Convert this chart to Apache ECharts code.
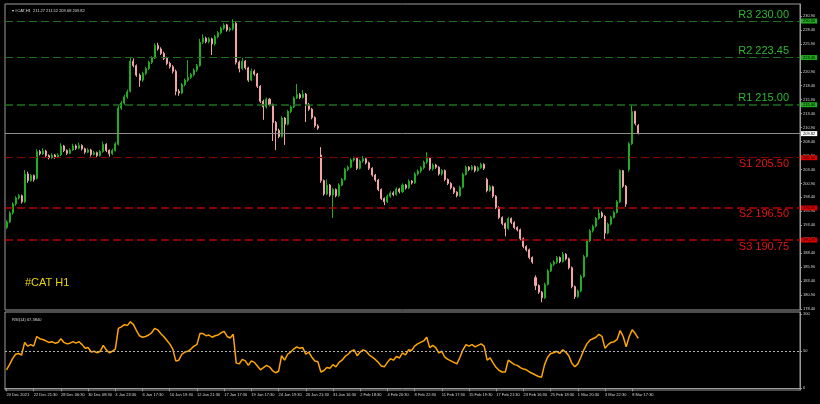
<!DOCTYPE html>
<html><head><meta charset="utf-8">
<script src="https://cdn.jsdelivr.net/npm/echarts@6/dist/echarts.min.js"></script>
<style>html,body{margin:0;padding:0;background:#000;}#c{width:820px;height:404px;}</style>
</head><body><div id="c"></div>
<script>
const tickLabels = ["20 Dec 2021","22 Dec 21:30","28 Dec 06:30","30 Dec 08:30","3 Jan 23:30","6 Jan 17:30","10 Jan 19:30","12 Jan 21:30","17 Jan 17:30","19 Jan 17:30","24 Jan 19:30","26 Jan 21:30","31 Jan 16:30","2 Feb 18:30","4 Feb 20:30","8 Feb 22:30","11 Feb 17:30","15 Feb 19:30","17 Feb 21:30","23 Feb 16:30","25 Feb 18:30","1 Mar 20:30","3 Mar 22:30","8 Mar 17:30"];
const priceTicks = [178.40,180.90,183.40,185.90,188.40,190.90,193.40,195.90,198.40,200.90,203.40,205.90,208.40,210.90,213.40,215.90,218.40,220.90,223.40,225.90,228.40,230.90];
const rsiTicks = [0,50,100];
const levelNames = ["R3","R2","R1","S1","S2","S3"];
const levelValues = [230.00,223.45,215.00,205.50,196.50,190.75];
const bidPrice = 209.82;
const headerValues = [211.27,211.52,209.68,209.82];
const rsiLast = 67.3840;
// [open, close, low, high]
const ohlc = [
[193.0,194.0,192.7,194.3],[194.0,195.6,193.8,195.9],[195.6,197.2,195.3,197.5],[197.2,198.3,196.9,198.6],[198.3,198.7,198.0,199.0],
[198.7,197.6,197.3,198.9],[197.6,202.6,197.4,203.3],[202.6,201.4,201.0,203.0],[201.4,202.3,201.2,202.6],[202.3,201.6,201.2,202.5],
[201.8,206.6,201.6,207.0],[206.6,206.2,205.9,206.9],[206.2,206.7,206.0,207.2],[206.7,205.9,205.6,206.9],[205.9,205.5,205.2,206.1],
[205.5,206.0,205.3,206.3],[206.0,205.6,205.3,206.2],[205.6,206.0,205.4,206.3],[206.0,207.6,205.8,208.1],[207.6,206.8,206.5,207.8],
[206.8,206.3,206.0,207.0],[206.3,206.9,206.1,207.2],[206.9,207.6,206.7,208.0],[207.6,207.2,206.9,207.9],[207.2,207.7,207.0,208.2],
[207.7,207.1,206.8,207.9],[207.1,206.5,206.2,207.3],[206.5,206.9,206.3,207.2],[206.9,206.1,205.7,207.1],[206.1,206.4,205.9,206.7],
[206.4,205.9,205.6,206.6],[205.9,206.6,205.7,206.9],[206.6,207.9,206.4,208.4],[207.9,206.8,206.5,208.1],[206.8,206.2,205.7,207.0],
[206.2,206.8,206.0,207.1],[206.8,208.0,206.6,208.3],[207.9,214.4,207.7,214.8],[214.4,215.3,214.1,215.7],[215.3,216.4,215.0,216.8],
[216.4,217.3,216.1,217.7],[217.4,222.8,217.2,223.4],[222.8,222.0,221.7,223.3],[222.0,220.3,220.0,222.2],[220.3,219.4,218.2,220.6],
[219.4,220.6,219.1,220.9],[220.6,221.5,220.3,221.8],[221.5,222.6,221.2,222.9],[222.6,223.4,222.3,223.7],[223.4,225.6,223.2,226.0],
[225.6,225.0,224.7,226.1],[225.0,224.2,223.9,225.3],[224.2,223.3,223.0,224.5],[223.3,222.4,222.1,223.6],[222.4,221.8,221.5,222.7],
[221.8,221.0,220.6,222.1],[221.0,217.4,216.7,221.3],[217.4,217.1,216.6,217.8],[217.1,218.6,216.9,218.9],[218.6,219.4,218.3,219.7],
[219.4,219.9,219.1,223.0],[219.9,220.4,219.6,220.7],[220.4,221.2,220.1,221.5],[221.2,222.0,220.9,222.3],[222.0,226.2,221.8,226.8],
[226.2,226.9,225.9,227.6],[226.9,226.3,226.0,227.2],[226.3,226.8,226.0,227.1],[226.8,225.9,223.9,227.0],[225.9,227.2,225.6,227.5],
[227.2,227.9,226.9,228.2],[227.9,228.7,227.6,229.0],[228.7,229.3,228.4,229.6],[229.3,228.4,228.1,229.5],[228.4,228.6,228.1,228.9],
[228.6,229.6,228.3,230.3],[229.6,222.6,222.2,229.8],[222.6,221.5,220.8,222.9],[221.5,222.8,221.2,223.4],[222.8,221.6,221.3,223.0],
[221.6,219.4,219.1,221.8],[219.4,221.0,219.2,221.5],[221.0,220.5,220.2,221.3],[220.5,218.3,218.0,220.7],[218.3,215.6,215.3,218.5],
[215.6,214.6,212.3,215.9],[214.6,216.0,214.3,216.3],[216.0,215.0,214.7,216.2],[215.0,211.8,208.5,215.2],[211.8,210.4,206.9,212.1],
[210.4,209.3,209.0,210.7],[209.3,212.6,209.1,212.9],[212.6,211.5,207.8,212.8],[211.5,213.8,211.3,214.1],[213.8,214.6,213.5,214.9],
[214.6,216.2,214.4,216.5],[216.2,216.8,216.0,218.7],[216.8,216.3,216.0,217.1],[216.3,216.9,216.1,217.6],[216.9,215.0,211.9,217.1],
[215.0,214.2,213.9,215.3],[214.2,212.7,212.4,214.4],[212.7,211.2,210.9,212.9],[211.2,210.8,210.5,211.5],[206.0,201.4,201.0,207.4],
[201.4,199.0,198.7,201.6],[199.0,200.6,198.8,201.6],[200.6,198.8,198.5,200.8],[198.8,199.8,194.7,200.1],[199.8,198.7,198.4,200.0],
[198.7,200.6,198.5,200.9],[200.6,201.6,200.4,201.9],[201.6,203.4,201.4,203.7],[203.4,203.8,203.1,204.1],[203.8,205.1,203.6,205.4],
[205.1,205.4,204.8,205.7],[205.4,203.6,203.3,205.6],[203.6,204.9,203.4,205.2],[204.9,205.3,204.6,205.8],[205.3,204.6,204.3,205.5],
[204.6,203.6,203.3,204.8],[203.6,202.4,202.1,203.8],[202.4,201.5,201.2,202.6],[201.5,199.8,199.5,201.7],[199.8,198.2,197.9,200.0],
[198.2,197.6,197.0,198.4],[197.6,198.6,197.4,198.9],[198.6,199.2,198.3,199.5],[199.2,198.9,198.6,199.5],[198.9,199.9,198.7,200.2],
[199.9,199.4,199.1,200.1],[199.4,200.6,199.2,200.9],[200.6,200.1,199.8,200.8],[200.1,201.3,199.9,201.6],[201.3,201.0,200.7,201.5],
[201.0,202.6,200.8,202.9],[202.6,203.1,202.3,203.4],[203.1,203.7,202.8,204.0],[203.7,204.7,203.4,205.0],[204.7,205.4,204.4,206.5],
[205.4,203.5,203.2,205.6],[203.5,204.2,203.2,204.5],[204.2,203.8,203.5,204.4],[203.8,202.6,202.3,204.0],[202.6,203.2,202.3,203.5],
[203.2,201.6,201.3,203.4],[201.6,200.9,200.6,201.8],[200.9,200.1,199.8,201.1],[200.1,199.3,199.0,200.3],[199.3,198.7,198.4,199.5],
[198.7,200.2,198.5,200.5],[200.2,202.5,200.0,202.8],[202.5,203.8,202.3,204.1],[203.8,203.4,203.1,204.0],[203.4,203.9,203.2,204.2],
[203.9,203.2,202.9,204.1],[203.2,203.7,203.0,204.0],[203.7,204.3,203.5,204.6],[204.3,203.6,203.3,204.5],[201.6,199.6,199.3,201.9],
[199.6,200.3,199.4,200.6],[200.3,198.6,198.3,200.5],[198.6,196.6,196.3,198.8],[196.6,194.8,194.5,196.8],[194.8,193.7,193.4,195.0],
[193.7,192.8,191.4,193.9],[192.8,194.6,192.6,194.9],[194.6,193.9,193.6,194.8],[193.9,193.0,192.7,194.1],[193.0,192.6,192.3,193.2],
[192.6,191.0,190.7,192.8],[191.0,189.6,189.3,191.2],[189.6,189.0,188.7,189.8],[189.0,187.6,187.3,189.2],[187.6,186.8,186.5,187.8],
[184.0,182.6,181.8,184.4],[182.6,181.4,181.1,182.8],[181.4,180.4,179.6,181.6],[180.4,182.8,180.2,183.1],[182.8,185.2,182.6,185.5],
[185.2,186.4,185.0,186.7],[186.4,186.8,186.1,187.1],[186.8,187.6,186.5,187.9],[187.6,186.9,186.6,187.8],[186.9,188.2,186.7,188.6],
[188.2,187.4,187.1,188.4],[187.4,185.8,185.5,187.6],[185.8,182.4,182.1,186.0],[182.4,180.6,180.2,182.6],[180.6,181.6,180.4,181.9],
[181.6,184.2,181.4,184.5],[184.2,187.8,184.0,188.1],[187.8,190.6,187.6,190.9],[190.6,192.4,190.4,192.7],[192.4,193.2,192.1,193.5],
[193.2,194.6,193.0,194.9],[194.6,195.6,194.4,196.3],[195.6,195.0,194.7,195.9],[195.0,192.0,190.9,195.2],[192.0,193.6,191.8,193.9],
[193.6,194.8,193.4,195.1],[194.8,195.7,194.6,196.0],[195.7,197.6,195.5,197.9],[197.6,203.2,197.4,203.4],[203.2,200.4,200.1,203.3],
[200.4,197.2,196.7,200.6],[203.4,208.0,203.0,208.3],[208.0,213.8,207.8,215.0],[213.8,211.6,211.3,213.9],[211.27,209.82,209.68,211.52]
];
const rsi = [
25,32,40,46,47,45,62,57,59,57, 70,67,66,64,62,63,61,62,67,62,
60,61,63,61,63,59,54,55,49,50, 48,50,58,52,48,50,53,81,83,86,
85,90,86,78,71,69,70,72,75,81, 79,74,70,65,60,53,37,38,46,49,
50,53,57,59,74,74,71,72,69,71, 72,75,77,70,68,73,34,33,39,37,
31,37,35,30,25,28,31,29,24,21, 23,44,38,46,49,53,56,54,55,46,
49,42,37,36,22,24,28,27,32,29, 35,38,43,46,50,52,44,49,52,50,
45,42,39,35,30,29,35,40,38,43, 41,48,45,52,51,57,60,62,64,69,
55,58,55,48,50,42,39,37,35,33, 42,52,59,57,59,56,58,60,57,38,
41,34,28,24,22,22,38,35,32,31, 28,26,25,22,20,18,16,15,32,42,
47,48,50,47,52,49,44,34,29,33, 42,52,60,65,67,69,73,70,54,59,
62,63,66,78,70,56,70,79,74,67.384
];
const TOTAL_SLOTS = 263;
const LABEL_STEP = 9;

const cats = [];
for (let i = 0; i < TOTAL_SLOTS; i++) cats.push(String(i));

const FONT = 'Liberation Sans, Arial, sans-serif';
const greenText = '#2fb52f', greenLine = '#1f6e1f', greenBox = '#22aa22';
const redText = '#e01212', redBox = '#dd0000';

const levelLines = [];
levelNames.forEach((n, k) => {
  const v = levelValues[k];
  const isR = n[0] === 'R';
  const lineColor = isR ? greenLine : (n === 'S1' ? '#8a0000' : '#b40000');
  const lw = (n === 'R1' || n === 'S2' || n === 'S3') ? 1.5 : 1;
  levelLines.push({
    yAxis: v,
    lineStyle: { color: lineColor, type: [8, 4], width: lw },
    label: {
      show: true, position: isR ? 'insideEndTop' : 'insideEndBottom',
      formatter: n + ' ' + v.toFixed(2), color: isR ? greenText : redText,
      fontSize: 11, fontFamily: FONT, distance: [11, 1]
    }
  });
  levelLines.push({
    yAxis: v,
    lineStyle: { color: 'rgba(0,0,0,0)', width: 1, type: 'solid' },
    label: {
      show: true, position: 'end', formatter: v.toFixed(2), color: '#000',
      backgroundColor: isR ? greenBox : redBox, fontSize: 4, padding: [1, 2, 0, 2], distance: 1, fontFamily: FONT
    }
  });
});
levelLines.push({
  yAxis: bidPrice,
  lineStyle: { color: '#8c8c8c', type: 'solid', width: 1 },
  label: { show: true, position: 'end', formatter: bidPrice.toFixed(2), color: '#000', backgroundColor: '#ffffff', fontSize: 4, padding: [1, 2, 0, 2], distance: 1, fontFamily: FONT }
});

const labelShown = (idx) => idx % LABEL_STEP === 0 && idx / LABEL_STEP < tickLabels.length;

const chart = echarts.init(document.getElementById('c'), null, { renderer: 'canvas' });
chart.setOption({
  backgroundColor: '#000',
  animation: false,
  textStyle: { fontFamily: FONT },
  title: [
    { text: '\u25BE #CAT,H1  ' + headerValues.map(v => v.toFixed(2)).join(' '), left: 7, top: 4,
      textStyle: { fontSize: 4, color: '#dddddd', fontWeight: 'normal', fontFamily: FONT } },
    { text: '#CAT H1', left: 20, top: 272,
      textStyle: { fontSize: 11, color: '#e8d40a', fontWeight: 'normal', fontFamily: FONT } },
    { text: 'RSI(14) ' + rsiLast.toFixed(4), left: 7, top: 313,
      textStyle: { fontSize: 4, color: '#dddddd', fontWeight: 'normal', fontFamily: FONT } }
  ],
  grid: [
    { left: 5, right: 20, top: 4, height: 306, show: true, borderColor: '#9a9a9a', borderWidth: 1, backgroundColor: 'transparent' },
    { left: 5, right: 20, top: 312, height: 78, show: true, borderColor: '#9a9a9a', borderWidth: 1, backgroundColor: 'transparent' }
  ],
  xAxis: [
    { type: 'category', gridIndex: 0, data: cats, boundaryGap: true,
      axisLine: { show: false }, axisTick: { show: false }, axisLabel: { show: false }, splitLine: { show: false } },
    { type: 'category', gridIndex: 1, data: cats, boundaryGap: true,
      axisLine: { show: true, lineStyle: { color: '#9a9a9a' } },
      axisTick: { show: true, alignWithLabel: true, interval: (i) => labelShown(i), length: 3, lineStyle: { color: '#9a9a9a' } },
      axisLabel: { show: true, interval: (i) => labelShown(i), formatter: (v, i) => tickLabels[i / LABEL_STEP],
        fontSize: 4, color: '#d8d8d8', align: 'left', margin: 3, fontFamily: FONT },
      splitLine: { show: false } }
  ],
  yAxis: [
    { type: 'value', gridIndex: 0, position: 'right', min: 178.21, max: 233.05, scale: true,
      axisLine: { show: true, lineStyle: { color: '#9a9a9a' } },
      axisTick: { show: true, length: 2, customValues: priceTicks, lineStyle: { color: '#9a9a9a' } },
      axisLabel: { show: true, customValues: priceTicks, formatter: (v) => v.toFixed(2), fontSize: 4, color: '#d8d8d8', margin: 3, fontFamily: FONT },
      splitLine: { show: false } },
    { type: 'value', gridIndex: 1, position: 'right', min: -2.3, max: 103.1,
      axisLine: { show: true, lineStyle: { color: '#9a9a9a' } },
      axisTick: { show: true, length: 2, customValues: rsiTicks, lineStyle: { color: '#9a9a9a' } },
      axisLabel: { show: true, customValues: rsiTicks, formatter: (v) => String(v), fontSize: 4, color: '#d8d8d8', margin: 3, fontFamily: FONT },
      splitLine: { show: false } }
  ],
  series: [
    { type: 'candlestick', xAxisIndex: 0, yAxisIndex: 0, data: ohlc, barMaxWidth: 2, barMinWidth: 1,
      itemStyle: { color: '#1fae1f', color0: '#f0a4a4', borderColor: '#1fae1f', borderColor0: '#f0a4a4', borderWidth: 1 },
      markLine: { symbol: ['none', 'none'], silent: true, animation: false, data: levelLines }
    },
    { type: 'line', xAxisIndex: 1, yAxisIndex: 1, data: rsi, showSymbol: false, smooth: false,
      lineStyle: { color: '#ffa500', width: 1.5 },
      markLine: { symbol: ['none', 'none'], silent: true, animation: false, label: { show: false },
        lineStyle: { color: '#b0b0b0', type: [2, 2], width: 1 }, data: [{ yAxis: 50 }] }
    }
  ]
});
</script>
</body></html>
